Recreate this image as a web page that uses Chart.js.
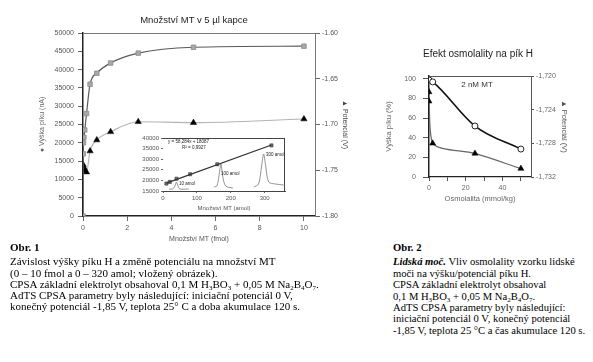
<!DOCTYPE html>
<html><head><meta charset="utf-8">
<script src="https://cdn.jsdelivr.net/npm/chart.js@4"></script>
<style>
html,body{margin:0;padding:0;background:#fff;}
body{width:593px;height:362px;position:relative;overflow:hidden;font-family:"Liberation Sans",Arial,sans-serif;}
.abs{position:absolute;white-space:nowrap;}
canvas{position:absolute;}
.cap{font-family:"Liberation Serif","Times New Roman",serif;font-size:10.6px;line-height:11.4px;color:#000;}
.cap.left{font-size:11px;line-height:11.3px;}
.cap .h{font-weight:bold;margin-bottom:3px;}
.cap sub{font-size:7px;line-height:0;vertical-align:-2px;}
.t1{font-size:9.5px;color:#222;transform:translate(-50%,-50%);}
.tiny{font-size:4.5px;color:#222;line-height:5px;}
</style></head>
<body>
<canvas id="c1" width="350" height="250" style="left:0;top:0"></canvas>
<canvas id="ci" width="160" height="82" style="left:130px;top:130px"></canvas>
<canvas id="c2" width="200" height="170" style="left:380px;top:40px"></canvas>

<div class="abs t1" style="left:194px;top:19px">Množství MT v 5 µl kapce</div>
<div class="abs t1" style="left:478px;top:53px;font-size:10px">Efekt osmolality na pík H</div>
<div class="abs t1" style="left:477px;top:84px;font-size:8px;color:#333">2 nM MT</div>

<div class="abs tiny" style="left:168px;top:139px">y = 58,284x + 18087</div>
<div class="abs tiny" style="left:182px;top:145px">R² = 0,9927</div>
<div class="abs tiny" style="left:179px;top:181px">10 amol</div>
<div class="abs tiny" style="left:221px;top:171px">100 amol</div>
<div class="abs tiny" style="left:266px;top:152px">300 amol</div>

<div class="abs cap left" style="left:10px;top:242px">
<div class="h">Obr. 1</div>
<div>Závislost výšky píku H a změně potenciálu na množství MT</div>
<div>(0 – 10 fmol a 0 – 320 amol; vložený obrázek).</div>
<div>CPSA základní elektrolyt obsahoval 0,1 M H<sub>3</sub>BO<sub>3</sub> + 0,05 M Na<sub>2</sub>B<sub>4</sub>O<sub>7</sub>.</div>
<div>AdTS CPSA parametry byly následující: iniciační potenciál 0 V,</div>
<div>konečný potenciál -1,85 V, teplota 25° C a doba akumulace 120 s.</div>
</div>

<div class="abs cap" style="left:393px;top:242px">
<div class="h">Obr. 2</div>
<div><b><i>Lidská moč.</i></b> Vliv osmolality vzorku lidské</div>
<div>moči na výšku/potenciál píku H.</div>
<div>CPSA základní elektrolyt obsahoval</div>
<div>0,1 M H<sub>3</sub>BO<sub>3</sub> + 0,05 M Na<sub>2</sub>B<sub>4</sub>O<sub>7</sub>.</div>
<div>AdTS CPSA parametry byly následující:</div>
<div>iniciační potenciál 0 V, konečný potenciál</div>
<div>-1,85 V, teplota 25 °C a čas akumulace 120 s.</div>
</div>

<script>
// ---------- Data: Obr. 1 main chart ----------
const fmolAmounts = [0, 0.01, 0.02, 0.04, 0.08, 0.16, 0.32, 0.625, 1.25, 2.5, 5, 10];
const peakHeight  = [0, 17000, 20000, 21500, 23500, 28000, 36000, 39000, 41800, 44500, 46100, 46400];
const potAmounts  = [0.01, 0.02, 0.04, 0.08, 0.16, 0.32, 0.625, 1.25, 2.5, 5, 10];
const potential   = [-1.744, -1.746, -1.748, -1.750, -1.752, -1.729, -1.717, -1.708, -1.697, -1.698, -1.694];
const c1XTicks      = [0, 2, 4, 6, 8, 10];
const c1YLeftTicks  = [0, 5000, 10000, 15000, 20000, 25000, 30000, 35000, 40000, 45000, 50000];
const c1YRightTicks = [-1.80, -1.75, -1.70, -1.65, -1.60];

// ---------- Data: Obr. 1 inset ----------
const insetAmol   = [10, 20, 40, 80, 160, 320];
const insetHeight = [18500, 19300, 20800, 22900, 27600, 36500];
const fitAmol     = [10, 320];
const fitHeight   = [18700, 36700];
const peak10X  = [18, 29, 35, 40, 44, 50, 76];
const peak10Y  = [15940, 15940, 17360, 19250, 17360, 15940, 15940];
const peak100X = [150, 159, 165, 171, 176, 185, 206];
const peak100Y = [16890, 17360, 22080, 27740, 22080, 17360, 16420];
const peak300X = [268, 282, 291, 297, 303, 312, 332, 356];
const peak300Y = [16890, 18300, 26790, 32450, 26790, 19250, 18300, 17830];
const insXTicks = [0, 100, 200, 300];
const insYTicks = [15000, 20000, 25000, 30000, 35000, 40000];

// ---------- Data: Obr. 2 ----------
const osmCircX     = [0, 2, 25, 50];
const osmHeight    = [99, 97, 52, 28.5];
const osmTriX      = [0, 0, 2, 25, 50];
const osmPotential = [-1.7219, -1.7230, -1.7280, -1.7292, -1.7310];
const c2XTicks      = [0, 10, 20, 30, 40, 50];
const c2XLabelled   = [0, 20, 40];
const c2YLeftTicks  = [0, 20, 40, 60, 80, 100];
const c2YRightTicks = [-1.732, -1.728, -1.724, -1.720];

const pts = (xs, ys) => xs.map((x, i) => ({x, y: ys[i]}));
const useTicks = arr => a => { a.ticks = arr.map(v => ({value: v})); };
Chart.defaults.font.family = "'Liberation Sans', Arial, sans-serif";
Chart.defaults.animation = false;

const boxPlugin = {
  id: 'box',
  beforeDatasetsDraw(chart, args, opts) {
    const {ctx, chartArea: {left, top, right, bottom}} = chart;
    ctx.save();
    if (opts.fill) { ctx.fillStyle = opts.fill; ctx.fillRect(left, top, right - left, bottom - top); }
    ctx.strokeStyle = opts.color || '#777';
    ctx.lineWidth = opts.width || 1;
    ctx.beginPath();
    ctx.moveTo(left, top + 0.5); ctx.lineTo(right, top + 0.5);
    if (opts.all) { ctx.moveTo(right - 0.5, top); ctx.lineTo(right - 0.5, bottom); }
    ctx.stroke();
    ctx.restore();
  }
};

// ---------- Chart 1 ----------
const f7 = {size: 7};
new Chart(document.getElementById('c1'), {
  type: 'line',
  data: {datasets: [
    {data: pts(fmolAmounts, peakHeight), yAxisID: 'yL', borderColor: '#5a5a5a', borderWidth: 1.2,
     pointStyle: 'rect', pointRadius: 3.2, pointBackgroundColor: '#a8a8a8', pointBorderColor: '#8c8c8c',
     pointBorderWidth: 0.8, cubicInterpolationMode: 'monotone'},
    {data: pts(potAmounts, potential), yAxisID: 'yR', borderColor: '#b4b4b4', borderWidth: 1.2,
     pointStyle: 'triangle', pointRadius: 3.6, pointBackgroundColor: '#000', pointBorderColor: '#000',
     pointBorderWidth: 0.5, cubicInterpolationMode: 'monotone'}
  ]},
  options: {
    responsive: false, devicePixelRatio: 1,
    layout: {padding: {left: 38, top: 33, right: 1, bottom: 7}},
    plugins: {legend: {display: false}, tooltip: {enabled: false}, box: {color: '#777', width: 1}},
    scales: {
      x: {type: 'linear', position: 'bottom', min: 0, max: 10.5, afterBuildTicks: useTicks(c1XTicks),
          ticks: {font: f7, color: '#555', padding: 3, maxRotation: 0, autoSkip: false},
          grid: {drawOnChartArea: false, tickLength: 5, color: '#666'},
          border: {color: '#222', width: 1.5},
          title: {display: true, text: 'Množství MT (fmol)', font: f7, color: '#555', padding: {top: 0, bottom: 0}},
          afterFit: s => { s.height = 27; }},
      yL: {type: 'linear', position: 'left', min: 0, max: 50000, afterBuildTicks: useTicks(c1YLeftTicks),
          ticks: {font: f7, color: '#555', padding: 4, callback: v => String(v)},
          grid: {drawOnChartArea: false, tickLength: 5, color: '#666'},
          border: {color: '#222', width: 1.5},
          title: {display: true, text: '● Výška píku (nA)', font: f7, color: '#666', padding: {top: 0, bottom: 0}},
          afterFit: s => { s.width = 45; }},
      yR: {type: 'linear', position: 'right', min: -1.80, max: -1.60, afterBuildTicks: useTicks(c1YRightTicks),
          ticks: {font: f7, color: '#555', padding: 2, callback: v => v.toFixed(2)},
          grid: {drawOnChartArea: false, tickLength: 5, color: '#666'},
          border: {color: '#777', width: 1},
          title: {display: true, text: '▲ Potenciál (V)', font: f7, color: '#444', padding: {top: 0, bottom: 0}},
          afterFit: s => { s.width = 34; }}
    }
  },
  plugins: [boxPlugin]
});

// ---------- Inset ----------
const f6 = {size: 6};
new Chart(document.getElementById('ci'), {
  type: 'line',
  data: {datasets: [
    {data: pts(fitAmol, fitHeight), borderColor: '#333', borderWidth: 1.3, pointRadius: 0, tension: 0},
    {data: pts(insetAmol, insetHeight), showLine: false, pointStyle: 'rect', pointRadius: 2.2,
     pointBackgroundColor: '#777', pointBorderColor: '#333', pointBorderWidth: 0.6},
    {data: pts(peak10X, peak10Y), borderColor: '#777', borderWidth: 0.8, pointRadius: 0, tension: 0.3},
    {data: pts(peak100X, peak100Y), borderColor: '#777', borderWidth: 0.8, pointRadius: 0, tension: 0.3},
    {data: pts(peak300X, peak300Y), borderColor: '#777', borderWidth: 0.8, pointRadius: 0, tension: 0.3}
  ]},
  options: {
    responsive: false, devicePixelRatio: 1,
    layout: {padding: {left: 8, top: 8, right: 5, bottom: 0}},
    plugins: {legend: {display: false}, tooltip: {enabled: false}, box: {color: '#444', width: 1, all: true, fill: '#fff'}},
    scales: {
      x: {type: 'linear', min: 0, max: 360, afterBuildTicks: useTicks(insXTicks),
          ticks: {font: f6, color: '#555', padding: 2, maxRotation: 0, autoSkip: false},
          grid: {drawOnChartArea: false, tickLength: 2, color: '#666'},
          border: {color: '#444', width: 1},
          title: {display: true, text: 'Množství MT (amol)', font: f6, color: '#555', padding: {top: 0, bottom: 0}},
          afterFit: s => { s.height = 21; }},
      y: {type: 'linear', min: 15000, max: 40000, afterBuildTicks: useTicks(insYTicks),
          ticks: {font: f6, color: '#555', padding: 2, callback: v => String(v)},
          grid: {drawOnChartArea: false, tickLength: 2, color: '#666'},
          border: {color: '#444', width: 1},
          afterFit: s => { s.width = 25; }}
    }
  },
  plugins: [boxPlugin]
});

// ---------- Chart 2 ----------
const f75 = {size: 7.5};
new Chart(document.getElementById('c2'), {
  type: 'line',
  data: {datasets: [
    {data: pts(osmCircX, osmHeight), yAxisID: 'yL', borderColor: '#111', borderWidth: 1.6,
     pointStyle: 'circle', pointRadius: 3, pointBackgroundColor: '#fff', pointBorderColor: '#222',
     pointBorderWidth: 1, cubicInterpolationMode: 'monotone'},
    {data: pts(osmTriX, osmPotential), yAxisID: 'yR', borderColor: '#666', borderWidth: 1.2,
     pointStyle: 'triangle', pointRadius: 3.5, pointBackgroundColor: '#000', pointBorderColor: '#000',
     pointBorderWidth: 0.5, tension: 0.3}
  ]},
  options: {
    responsive: false, devicePixelRatio: 1,
    layout: {padding: {left: 4, top: 36, right: 11, bottom: 7}},
    plugins: {legend: {display: false}, tooltip: {enabled: false}, box: {color: '#555', width: 1}},
    scales: {
      x: {type: 'linear', min: 0, max: 55.5, afterBuildTicks: useTicks(c2XTicks),
          ticks: {font: f7, color: '#666', padding: 3, maxRotation: 0, autoSkip: false,
                  callback: v => (c2XLabelled.includes(v) ? String(v) : '')},
          grid: {drawOnChartArea: false, tickLength: 4, color: '#555'},
          border: {color: '#222', width: 1.3},
          title: {display: true, text: 'Osmolalita (mmol/kg)', font: f75, color: '#666', padding: {top: 0, bottom: 0}},
          afterFit: s => { s.height = 26; }},
      yL: {type: 'linear', position: 'left', min: 0, max: 103, afterBuildTicks: useTicks(c2YLeftTicks),
          ticks: {font: f7, color: '#666', padding: 7},
          grid: {drawOnChartArea: false, tickLength: 6, color: '#555'},
          border: {color: '#222', width: 1.5},
          title: {display: true, text: 'Výška píku (%)', font: f75, color: '#666', padding: {top: 0, bottom: 0}},
          afterFit: s => { s.width = 45; }},
      yR: {type: 'linear', position: 'right', min: -1.732, max: -1.720, afterBuildTicks: useTicks(c2YRightTicks),
          ticks: {font: f7, color: '#666', padding: 2, callback: v => v.toFixed(3).replace('.', ',')},
          grid: {drawOnChartArea: false, tickLength: 3, color: '#555'},
          border: {color: '#555', width: 1},
          title: {display: true, text: '▲ Potenciál (V)', font: f75, color: '#555', padding: {top: 0, bottom: 0}},
          afterFit: s => { s.width = 38; }}
    }
  },
  plugins: [boxPlugin]
});
</script>
</body></html>
